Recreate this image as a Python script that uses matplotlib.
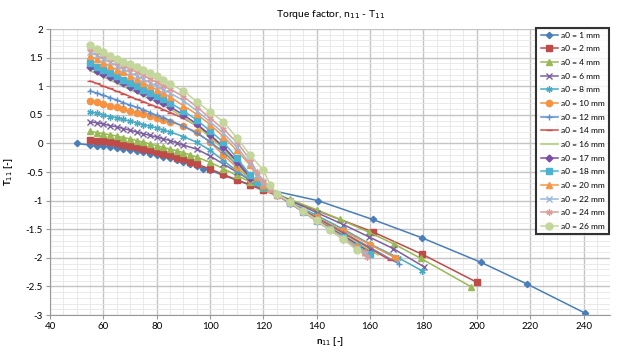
import matplotlib.pyplot as plt
from matplotlib.ticker import MultipleLocator

plt.rcParams['font.family'] = ['Lato', 'DejaVu Sans']

# front part of the curves: same n11 steps for every series
n_front = [55, 57.5, 60, 62.5, 65, 67.5, 70, 72.5, 75, 77.5, 80, 82.5, 85]

n_a1 = [50] + n_front + [87.5, 90, 92.5, 95, 97.5, 100, 105, 110, 115, 120, 140.4, 161, 179.4, 201.6, 218.9, 240.7]
t_a1 = [0.0, -0.03, -0.04, -0.05, -0.06, -0.08, -0.09, -0.11, -0.13, -0.15, -0.18, -0.2, -0.23, -0.26,
        -0.29, -0.32, -0.36, -0.4, -0.44, -0.47, -0.56, -0.64, -0.72, -0.79, -1.0, -1.33, -1.65, -2.08, -2.46, -2.97]

n_a2 = n_front + [87.5, 90, 92.5, 95, 100, 105, 110, 115, 120, 161.2, 179.6, 200.1]
t_a2 = [0.06, 0.05, 0.04, 0.02, 0.0, -0.02, -0.04, -0.07, -0.09, -0.12, -0.15, -0.18, -0.21,
        -0.25, -0.28, -0.32, -0.36, -0.45, -0.54, -0.64, -0.73, -0.82, -1.55, -1.94, -2.43]

n_a4 = n_front + [87.5, 90, 92.5, 95, 100, 105, 110, 115, 120, 130, 140, 148.8, 159.4, 169, 179, 198]
t_a4 = [0.21, 0.19, 0.17, 0.15, 0.13, 0.1, 0.08, 0.05, 0.02, -0.01, -0.04, -0.07, -0.1,
        -0.13, -0.16, -0.2, -0.24, -0.33, -0.44, -0.56, -0.67, -0.78, -0.98, -1.16, -1.33, -1.55, -1.76, -2.01, -2.51]

n_a6 = n_front + [87.5, 90, 95, 100, 105, 110, 115, 120, 130, 140, 150, 159.4, 168.7, 180.3]
t_a6 = [0.38, 0.36, 0.34, 0.31, 0.29, 0.26, 0.23, 0.2, 0.17, 0.14, 0.11, 0.08, 0.05,
        0.01, -0.03, -0.1, -0.22, -0.36, -0.5, -0.64, -0.77, -1.0, -1.21, -1.42, -1.63, -1.84, -2.16]

n_a8 = n_front + [90, 95, 100, 105, 110, 115, 120, 130, 140, 150, 160, 170.6, 179.6]
t_a8 = [0.55, 0.53, 0.5, 0.47, 0.45, 0.42, 0.39, 0.36, 0.33, 0.3, 0.27, 0.23, 0.2,
        0.12, 0.02, -0.12, -0.3, -0.48, -0.64, -0.77, -1.03, -1.26, -1.5, -1.76, -2.0, -2.23]

n_a10 = n_front + [90, 95, 100, 105, 110, 115, 120, 130, 140, 150, 160, 169.4]
t_a10 = [0.74, 0.72, 0.69, 0.66, 0.63, 0.6, 0.57, 0.54, 0.51, 0.48, 0.45, 0.41, 0.38,
         0.3, 0.2, 0.02, -0.2, -0.42, -0.62, -0.77, -1.04, -1.29, -1.53, -1.77, -2.0]

n_a12 = n_front + [90, 95, 100, 105, 110, 115, 120, 130, 140, 150, 160, 171]
t_a12 = [0.92, 0.88, 0.84, 0.8, 0.76, 0.71, 0.67, 0.63, 0.59, 0.54, 0.49, 0.45, 0.4,
         0.3, 0.18, 0.03, -0.15, -0.37, -0.58, -0.76, -1.04, -1.3, -1.56, -1.82, -2.11]

n_a14 = n_front + [90, 95, 100, 105, 110, 115, 120, 130, 140, 150, 160, 167.5]
t_a14 = [1.09, 1.05, 1.0, 0.96, 0.91, 0.87, 0.82, 0.77, 0.73, 0.68, 0.64, 0.59, 0.54,
         0.44, 0.31, 0.14, -0.06, -0.3, -0.55, -0.76, -1.04, -1.31, -1.57, -1.84, -2.04]

n_a16 = n_front + [90, 95, 100, 105, 110, 115, 120, 130, 140, 150, 160, 163]
t_a16 = [1.27, 1.22, 1.16, 1.11, 1.05, 1.0, 0.94, 0.89, 0.83, 0.78, 0.72, 0.66, 0.6,
         0.46, 0.3, 0.11, -0.1, -0.36, -0.63, -0.77, -1.04, -1.33, -1.6, -1.87, -1.95]

n_a17 = n_front + [90, 95, 100, 105, 110, 115, 120, 125, 130, 140, 150, 160]
t_a17 = [1.33, 1.27, 1.21, 1.16, 1.1, 1.05, 0.99, 0.93, 0.88, 0.82, 0.76, 0.7, 0.64,
         0.5, 0.34, 0.15, -0.06, -0.32, -0.6, -0.77, -0.9, -1.05, -1.34, -1.62, -1.9]

n_a18 = n_front + [90, 95, 100, 105, 110, 115, 117.5, 120, 125, 130, 135, 140, 145, 150, 155, 160]
t_a18 = [1.4, 1.34, 1.28, 1.23, 1.17, 1.11, 1.06, 1.0, 0.94, 0.89, 0.83, 0.77, 0.71,
         0.57, 0.41, 0.22, 0.02, -0.25, -0.55, -0.68, -0.76, -0.9, -1.04, -1.2, -1.35, -1.5, -1.64, -1.79, -1.93]

n_a20 = n_front + [90, 95, 100, 105, 110, 115, 117.5, 120, 122.5, 125, 130, 135, 140, 145, 150, 155, 158]
t_a20 = [1.53, 1.47, 1.41, 1.35, 1.29, 1.24, 1.18, 1.12, 1.06, 1.0, 0.94, 0.88, 0.81,
         0.66, 0.51, 0.33, 0.12, -0.12, -0.38, -0.58, -0.72, -0.8, -0.9, -1.03, -1.19, -1.34, -1.5, -1.65, -1.8, -1.9]

n_a22 = n_front + [90, 95, 100, 105, 110, 115, 117.5, 120, 122.5, 125, 130, 135, 140, 145, 150, 155, 158]
t_a22 = [1.6, 1.54, 1.48, 1.42, 1.36, 1.3, 1.24, 1.18, 1.12, 1.06, 1.0, 0.94, 0.88,
         0.75, 0.57, 0.38, 0.18, -0.06, -0.35, -0.55, -0.7, -0.8, -0.9, -1.04, -1.2, -1.35, -1.5, -1.66, -1.82, -1.92]

n_a24 = n_front + [90, 95, 100, 105, 110, 115, 117.5, 120, 122.5, 125, 130, 135, 140, 145, 150, 155, 159]
t_a24 = [1.65, 1.59, 1.53, 1.47, 1.41, 1.36, 1.3, 1.25, 1.19, 1.13, 1.07, 1.01, 0.95,
         0.82, 0.64, 0.44, 0.25, 0.02, -0.28, -0.5, -0.65, -0.8, -0.9, -1.04, -1.2, -1.36, -1.52, -1.68, -1.84, -1.99]

n_a26 = n_front + [90, 95, 100, 105, 110, 115, 120, 122.5, 125, 130, 135, 140, 145, 150, 155]
t_a26 = [1.72, 1.65, 1.59, 1.53, 1.48, 1.43, 1.38, 1.33, 1.28, 1.23, 1.17, 1.11, 1.04,
         0.92, 0.73, 0.55, 0.38, 0.1, -0.2, -0.47, -0.72, -0.88, -1.02, -1.19, -1.34, -1.52, -1.67, -1.87]

labels = ['a0 = 1 mm', 'a0 = 2 mm', 'a0 = 4 mm', 'a0 = 6 mm', 'a0 = 8 mm', 'a0 = 10 mm',
          'a0 = 12 mm', 'a0 = 14 mm', 'a0 = 16 mm', 'a0 = 17 mm', 'a0 = 18 mm', 'a0 = 20 mm',
          'a0 = 22 mm', 'a0 = 24 mm', 'a0 = 26 mm']

series_n = [n_a1, n_a2, n_a4, n_a6, n_a8, n_a10, n_a12, n_a14, n_a16, n_a17, n_a18, n_a20, n_a22, n_a24, n_a26]
series_t = [t_a1, t_a2, t_a4, t_a6, t_a8, t_a10, t_a12, t_a14, t_a16, t_a17, t_a18, t_a20, t_a22, t_a24, t_a26]

colors = ['#4A7EBB', '#BE4B48', '#98B954', '#7D60A0', '#46AAC5', '#F69240',
          '#5B8FD0', '#D0504D', '#A9CC6A', '#7A4FA6', '#4BB3D0', '#F79646',
          '#9BB7DA', '#DB9C9A', '#C3D69B']
star = (6, 2, 0)
markers = ['D', 's', '^', 'x', star, 'o', '+', '_', '', 'D', 's', '^', 'x', star, 'o']
msizes = [3.2, 4, 4, 4, 4.5, 4.5, 4.5, 4.5, 0, 3.5, 4.5, 4.5, 4, 4.5, 5]

fig = plt.figure(figsize=(6.22, 3.47), dpi=100)
ax = fig.add_axes([0.0804, 0.0922, 0.9006, 0.8242])

for n, t, lab, c, m, ms in zip(series_n, series_t, labels, colors, markers, msizes):
    ax.plot(n, t, color=c, lw=1.1, marker=m if m else None, markersize=ms,
            markeredgewidth=1.0, label=lab)

ax.set_xlim(40, 250)
ax.set_ylim(-3, 2)
ax.xaxis.set_major_locator(MultipleLocator(20))
ax.xaxis.set_minor_locator(MultipleLocator(5))
ax.yaxis.set_major_locator(MultipleLocator(0.5))
ax.yaxis.set_minor_locator(MultipleLocator(0.1))
ax.set_xticks([40, 60, 80, 100, 120, 140, 160, 180, 200, 220, 240])
ax.set_yticks([-3, -2.5, -2, -1.5, -1, -0.5, 0, 0.5, 1, 1.5, 2])
ax.set_yticklabels(['-3', '-2.5', '-2', '-1.5', '-1', '-0.5', '0', '0.5', '1', '1.5', '2'])
ax.grid(which='major', color='#C4C4C4', lw=1.0)
ax.grid(which='minor', color='#E6E6E6', lw=0.6)
ax.set_axisbelow(True)
ax.tick_params(which='major', labelsize=7, length=3, color='#999999', pad=2)
ax.tick_params(which='minor', length=0)
for s in ['top', 'right']:
    ax.spines[s].set_visible(False)
for s in ['left', 'bottom']:
    ax.spines[s].set_color('#999999')

ax.set_title('Torque factor, n$_{11}$ - T$_{11}$', fontsize=7.5, pad=9)
ax.set_xlabel('n$_{11}$ [-]', fontsize=7, fontweight='bold', labelpad=3)
ax.set_ylabel('T$_{11}$ [-]', fontsize=7, fontweight='bold', labelpad=8)

leg = ax.legend(loc='upper right', bbox_to_anchor=(0.997, 1.005), fontsize=6, frameon=True,
                fancybox=False, handlelength=2.1, labelspacing=0.8, borderpad=0.5,
                handletextpad=0.3, borderaxespad=0.0)
leg.get_frame().set_edgecolor('black')
leg.get_frame().set_linewidth(1.5)

fig.savefig('out.png', dpi=100)
